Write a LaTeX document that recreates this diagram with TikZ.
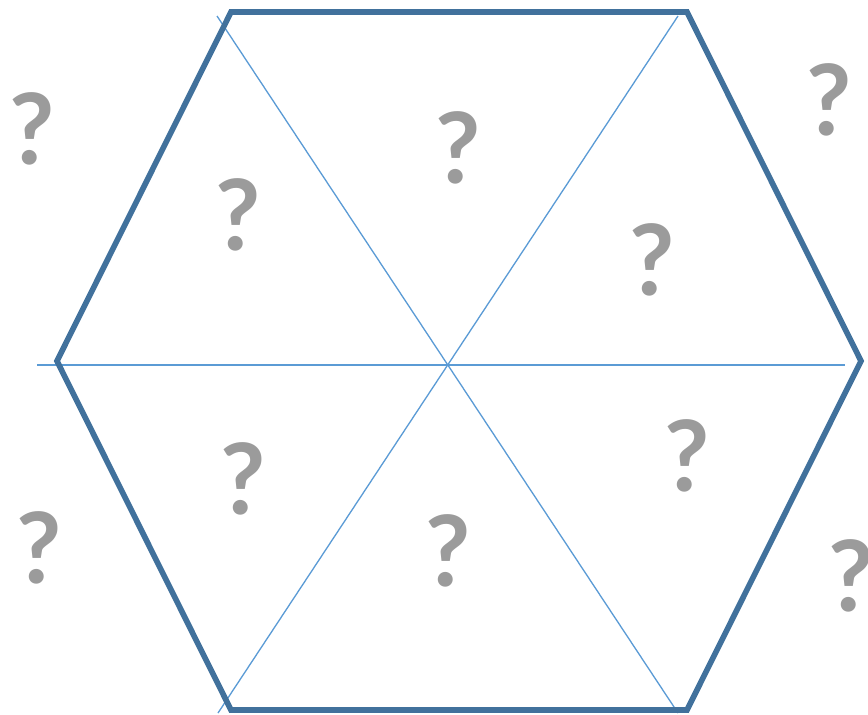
\documentclass[tikz,border=0pt]{standalone}
\usepackage{fontspec}
\setmainfont{Lato}
\usetikzlibrary{positioning, calc}

\definecolor{hexblue}{HTML}{41719C}
\definecolor{spokeblue}{HTML}{5B9BD5}
\definecolor{qgray}{HTML}{9B9B9B}

\begin{document}
\begin{tikzpicture}[
    x=0.02cm, y=-0.02cm,
    hexline/.style={draw=hexblue, line width=3.2pt, line join=miter},
    spoke/.style={draw=spokeblue, line width=0.75pt},
    qmark/.style={text=qgray, inner sep=0pt,
                  font=\fontsize{56}{56}\selectfont\bfseries},
]
\useasboundingbox (0,0) rectangle (868,714);

% ===================== HEXAGON =====================
\coordinate (TL) at (231, 12);
\coordinate (TR) at (687, 12);
\coordinate (R)  at (861, 361);
\coordinate (BR) at (687, 710);
\coordinate (BL) at (231, 710);
\coordinate (L)  at (57, 361);

% Spokes through the centre
\coordinate (C) at (448, 365);
\coordinate (hL) at (37, 365);
\coordinate (hR) at (845, 365);
\coordinate (dA) at (217, 16);
\coordinate (dB) at (678, 713);
\coordinate (dC) at (678, 16);
\coordinate (dD) at (218, 713);

\draw[spoke] (hL) -- (hR);
\draw[spoke] (dA) -- (dB);
\draw[spoke] (dC) -- (dD);

\draw[hexline] (TL) -- (TR) -- (R) -- (BR) -- (BL) -- (L) -- cycle;

% ===================== QUESTION MARKS =====================
\foreach \i/\px/\py in {1/32/129, 2/238/215, 3/458/148, 4/829/100,
                        5/652/260, 6/243/479, 7/39/548, 8/448/551,
                        9/687/456, 10/851/576} {
    \node[qmark] (q\i) at (\px, \py) {?};
}

\end{tikzpicture}
\end{document}
